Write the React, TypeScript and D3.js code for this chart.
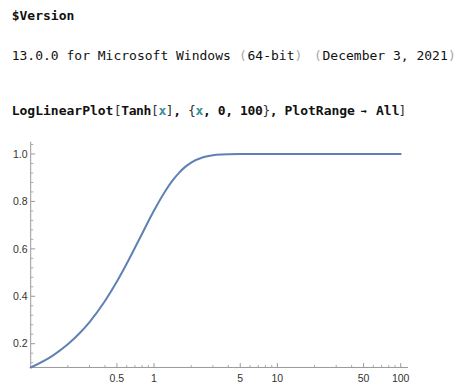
import React from "react";
import * as d3 from "d3";

const xValues = [0.1, 0.15, 0.2, 0.25, 0.3, 0.4, 0.5, 0.6, 0.7, 0.8, 0.9, 1, 1.2, 1.4, 1.6, 1.8, 2, 2.5, 3, 3.5, 4, 5, 7, 10, 20, 50, 100];
const yValues = [0.0997, 0.1489, 0.1974, 0.2449, 0.2913, 0.3799, 0.4621, 0.537, 0.6044, 0.664, 0.7163, 0.7616, 0.8337, 0.8854, 0.9217, 0.9468, 0.964, 0.9866, 0.9951, 0.9982, 0.9993, 0.9999, 1.0, 1.0, 1.0, 1.0, 1.0];

const xMajorTicks = [0.5, 1, 5, 10, 50, 100];
const xMajorLabels = ["0.5", "1", "5", "10", "50", "100"];
const xMinorTicks = [0.2, 0.3, 0.4, 0.6, 0.7, 0.8, 0.9, 2, 3, 4, 6, 7, 8, 9, 20, 30, 40, 60, 70, 80, 90];
const yMajorTicks = [0.2, 0.4, 0.6, 0.8, 1.0];
const yMajorLabels = ["0.2", "0.4", "0.6", "0.8", "1.0"];
const yMinorTicks = [0.12, 0.16, 0.24, 0.28, 0.32, 0.36, 0.44, 0.48, 0.52, 0.56, 0.64, 0.68, 0.72, 0.76, 0.84, 0.88, 0.92, 0.96, 1.04];

const MONO = "'DejaVu Sans Mono', 'Liberation Mono', monospace";
const SANS = "'Liberation Sans', Arial, sans-serif";
const TEAL = "#3d8c98";
const GRAYP = "#a8a8a8";

type Seg = { t: string; fill?: string; weight?: string };

// middle part of the input line
const midSegs: Seg[] = [
  { t: "[", weight: "normal", fill: "#333" },
  { t: "Tanh" },
  { t: "[", weight: "normal", fill: "#333" },
  { t: "x", fill: TEAL },
  { t: "]", weight: "normal", fill: "#333" },
  { t: ", " },
  { t: "{", weight: "normal", fill: "#333" },
  { t: "x", fill: TEAL },
  { t: ", 0, 100" },
  { t: "}", weight: "normal", fill: "#333" },
  { t: ", " },
];

function segTspans(segs: Seg[], start: number, pitch: number) {
  let idx = 0;
  return segs.map((s, k) => {
    const xs = s.t.split("").map((_, j) => (start + (idx + j) * pitch).toFixed(2)).join(" ");
    idx += s.t.length;
    return (
      <tspan key={k} x={xs} fill={s.fill} fontWeight={s.weight}>
        {s.t}
      </tspan>
    );
  });
}

export default function App() {
  const x = d3.scaleLog().domain([0.1, 100]).range([30.7, 400.7]);
  const y = d3.scaleLinear().domain([0.2, 1.0]).range([343.7, 154]);
  const xAxisEnd = 408;
  const yAxisTop = 141.7;
  const x0 = x(0.1);
  const y0 = y(0.0997);

  const line = d3
    .line<number>()
    .x((_, i) => x(xValues[i]))
    .y((d) => y(d))
    .curve(d3.curveMonotoneX);

  const axisColor = "#9a9a9a";
  const by = 114.5;

  return (
    <svg
      width={474}
      height={388}
      style={{ position: "absolute", left: 0, top: 0, background: "#fff" }}
    >
      <rect width={474} height={388} fill="#fff" />
      {/* header text */}
      <text x={11.7} y={20} fontFamily={MONO} fontWeight="bold" fontSize={13} fill="#111">$Version</text>
      <g fontFamily={MONO} fontSize={13} fill="#111">
        <text x={11.7} y={60}>13.0.0 for Microsoft Windows</text>
        <text x={243} y={60} textAnchor="middle" fill={GRAYP}>(</text>
        <text x={247.5} y={60}>64-bit</text>
        <text x={298.5} y={60} textAnchor="middle" fill={GRAYP}>)</text>
        <text x={318} y={60} textAnchor="middle" fill={GRAYP}>(</text>
        <text x={322.5} y={60}>December 3, 2021</text>
        <text x={452} y={60} textAnchor="middle" fill={GRAYP}>)</text>
      </g>
      <g fontFamily={MONO} fontSize={13} fontWeight="bold" fill="#111">
        <text y={by}>
          <tspan x={11.7}>LogLinearPlot</tspan>
          {segTspans(midSegs, 113.8, 7.43)}
          <tspan x={284.5}>PlotRange</tspan>
        </text>
        <text x={363.5} y={by - 1} textAnchor="middle" fontSize={10}>→</text>
        <text y={by}>
          <tspan x={376}>All</tspan>
          <tspan x={398.5} fontWeight="normal" fill="#333">]</tspan>
        </text>
      </g>

      {/* axes */}
      <line x1={x0} y1={y0} x2={xAxisEnd} y2={y0} stroke={axisColor} strokeWidth={1} />
      <line x1={x0} y1={y0} x2={x0} y2={yAxisTop} stroke={axisColor} strokeWidth={1} />
      {xMinorTicks.map((t) => (
        <line key={"xm" + t} x1={x(t)} x2={x(t)} y1={y0} y2={y0 - 2.6} stroke={axisColor} strokeWidth={0.8} />
      ))}
      {xMajorTicks.map((t, i) => (
        <g key={"xM" + t}>
          <line x1={x(t)} x2={x(t)} y1={y0} y2={y0 - 4.4} stroke={axisColor} strokeWidth={1} />
          <text x={x(t)} y={382} textAnchor="middle" fontFamily={SANS} fontSize={10.5} fill="#333">
            {xMajorLabels[i]}
          </text>
        </g>
      ))}
      {yMinorTicks.map((t) => (
        <line key={"ym" + t} x1={x0} x2={x0 + 2.6} y1={y(t)} y2={y(t)} stroke={axisColor} strokeWidth={0.8} />
      ))}
      {yMajorTicks.map((t, i) => (
        <g key={"yM" + t}>
          <line x1={x0} x2={x0 + 4.4} y1={y(t)} y2={y(t)} stroke={axisColor} strokeWidth={1} />
          <text x={27.5} y={y(t) + 3.7} textAnchor="end" fontFamily={SANS} fontSize={10.5} fill="#333">
            {yMajorLabels[i]}
          </text>
        </g>
      ))}

      {/* curve */}
      <path d={line(yValues) || ""} fill="none" stroke="#5e81b5" strokeWidth={2} strokeLinejoin="round" strokeLinecap="round" />
    </svg>
  );
}
